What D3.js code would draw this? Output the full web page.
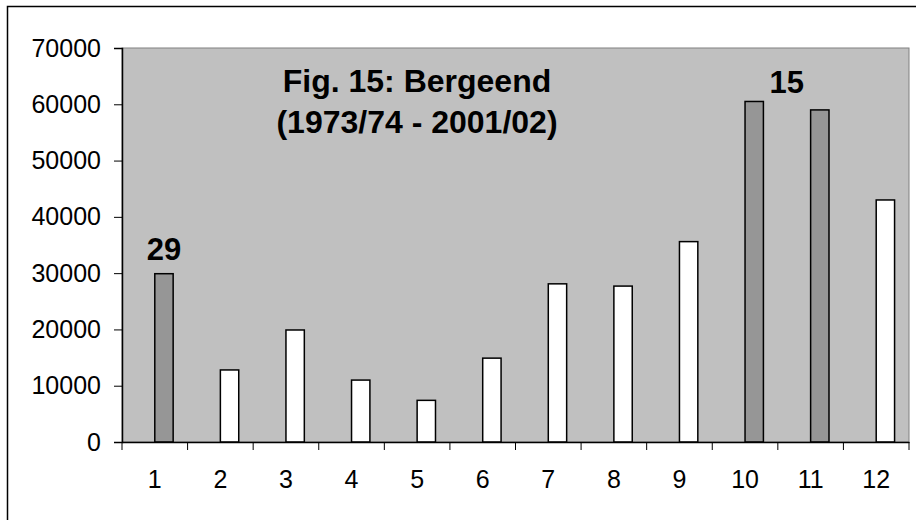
<!DOCTYPE html>
<html>
<head>
<meta charset="utf-8">
<script src="https://cdn.jsdelivr.net/npm/d3@7"></script>
<style>
  html, body { margin: 0; padding: 0; background: #fff; }
  svg { display: block; font-family: Arial, "Liberation Sans", sans-serif; }
</style>
</head>
<body>
<svg id="chart" width="916" height="520"></svg>
<script>
const categories = ["1","2","3","4","5","6","7","8","9","10","11","12"];
const values = [29900, 12800, 19900, 11000, 7400, 14900, 28100, 27700, 35600, 60500, 59000, 43000];
const highlighted = ["1","10","11"];
const yTicks = [0, 10000, 20000, 30000, 40000, 50000, 60000, 70000];
const titleLines = ["Fig. 15: Bergeend", "(1973/74 - 2001/02)"];
const annotations = [{text: "29", cat: "1", value: 29900}, {text: "15", cat: "10", value: 60500}];

const svg = d3.select("#chart");
const plot = {left: 122, top: 48, right: 909, bottom: 442};

// outer frame
svg.append("rect").attr("x", 7.5).attr("y", 6.5).attr("width", 1000).attr("height", 1000)
  .attr("fill", "none").attr("stroke", "#000").attr("stroke-width", 1.5);

const x = d3.scaleBand().domain(categories).range([plot.left, plot.right]).padding(0);
const y = d3.scaleLinear().domain([0, 70000]).range([plot.bottom, plot.top]);

// plot area
svg.append("rect").attr("x", plot.left).attr("y", plot.top)
  .attr("width", plot.right - plot.left).attr("height", plot.bottom - plot.top)
  .attr("fill", "#C0C0C0").attr("stroke", "#808080").attr("stroke-width", 1);

// bars
const bw = x.bandwidth() * 0.28;
svg.append("g").selectAll("rect").data(categories).join("rect")
  .attr("x", d => x(d) + x.bandwidth() / 2)
  .attr("y", (d, i) => y(values[i]))
  .attr("width", bw)
  .attr("height", (d, i) => y(0) - y(values[i]))
  .attr("fill", d => highlighted.includes(d) ? "#969696" : "#FFFFFF")
  .attr("stroke", "#000").attr("stroke-width", 1.5);

// y axis
const yAxis = svg.append("g").attr("transform", `translate(${plot.left},0)`)
  .call(d3.axisLeft(y).tickValues(yTicks).tickFormat(d3.format("d")).tickSize(8).tickPadding(13));
yAxis.select(".domain").attr("stroke", "#000").attr("stroke-width", 1.5);
yAxis.selectAll("line").attr("stroke", "#000");
yAxis.selectAll("text").attr("font-size", 25).attr("fill", "#000")
  .attr("font-family", "Arial, 'Liberation Sans', sans-serif");

// x axis
const xAxis = svg.append("g").attr("transform", `translate(0,${plot.bottom})`)
  .call(d3.axisBottom(x).tickSize(0).tickPadding(28));
xAxis.select(".domain").attr("stroke", "#000").attr("stroke-width", 1.5);
xAxis.selectAll("text").attr("font-size", 25).attr("fill", "#000")
  .attr("font-family", "Arial, 'Liberation Sans', sans-serif");
// tick marks between categories
const boundaries = categories.map(c => x(c)).concat([x(categories[categories.length - 1]) + x.bandwidth()]);
svg.append("g").selectAll("line").data(boundaries).join("line")
  .attr("x1", d => d).attr("x2", d => d)
  .attr("y1", plot.bottom).attr("y2", plot.bottom + 8)
  .attr("stroke", "#000").attr("stroke-width", 1);

// title
svg.append("g").selectAll("text").data(titleLines).join("text")
  .attr("x", 417).attr("y", (d, i) => 92 + i * 41)
  .attr("text-anchor", "middle").attr("font-weight", "bold").attr("font-size", 32)
  .attr("fill", "#000").text(d => d);

// annotations
svg.append("text").attr("x", x("1") + x.bandwidth() / 2 + bw / 2).attr("y", y(annotations[0].value) - 14)
  .attr("text-anchor", "middle").attr("font-weight", "bold").attr("font-size", 31).text(annotations[0].text);
svg.append("text").attr("x", x("10") + x.bandwidth() + 9).attr("y", y(annotations[1].value) - 8.5)
  .attr("text-anchor", "middle").attr("font-weight", "bold").attr("font-size", 31).text(annotations[1].text);
</script>
</body>
</html>
